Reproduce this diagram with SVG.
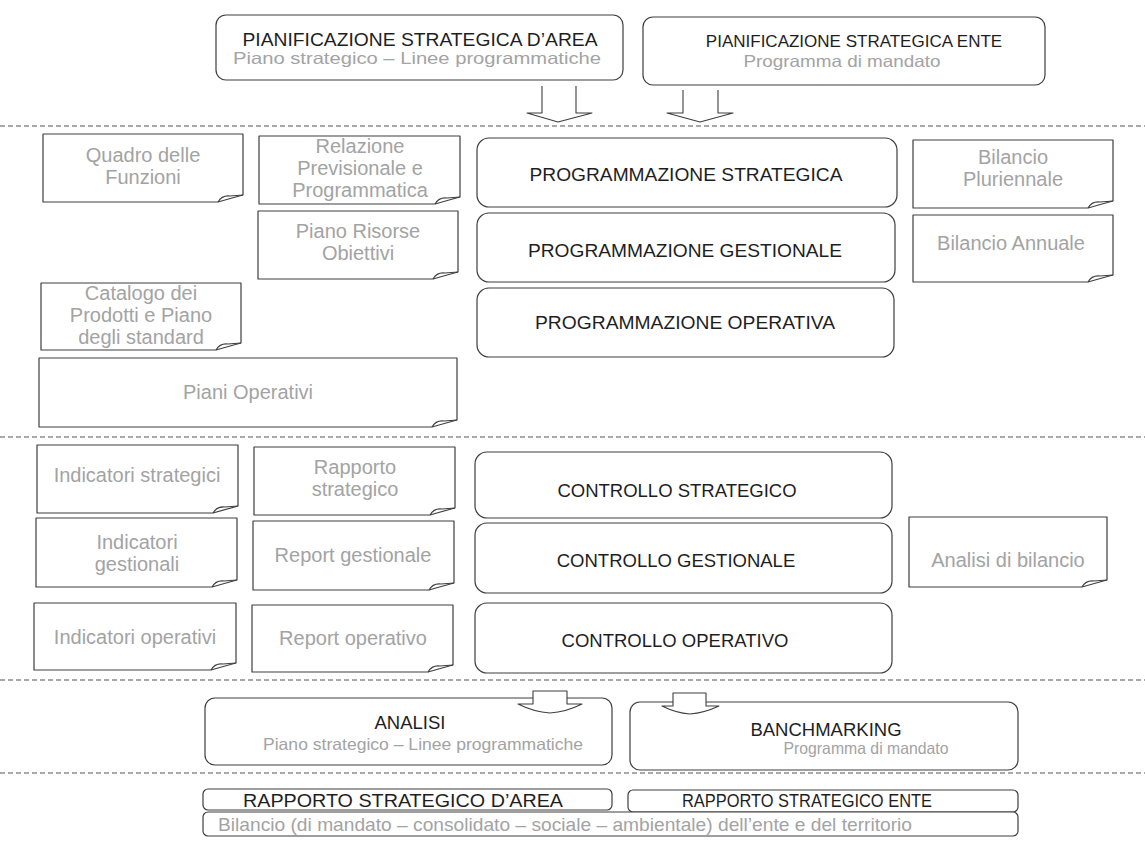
<svg xmlns="http://www.w3.org/2000/svg" width="1145" height="852" viewBox="0 0 1145 852">
<style>
  .box { fill: #ffffff; stroke: #3e3e3e; stroke-width: 1.2; }
  .note { fill: #ffffff; stroke: #3e3e3e; stroke-width: 1.2; stroke-linejoin: round; }
  .fold { fill: none; stroke: #3e3e3e; stroke-width: 1.1; }
  .sep { stroke: #555555; stroke-width: 1.2; stroke-dasharray: 5 3; fill: none; }
  .arr { fill: #ffffff; stroke: #3e3e3e; stroke-width: 1.1; stroke-linejoin: round; }
  .t { font-family: "Liberation Sans", Arial, sans-serif; font-size: 18.5px; fill: #1e1e1e; text-anchor: middle; }
  .f { font-family: "Liberation Sans", Arial, sans-serif; font-size: 20px; fill: #a3a3a3; text-anchor: middle; }
  .s { font-family: "Liberation Sans", Arial, sans-serif; font-size: 16.5px; fill: #a3a3a3; text-anchor: middle; }
</style>
<rect width="1145" height="852" fill="#ffffff"/>

<g id="separators">
  <line class="sep" x1="0" y1="126" x2="1145" y2="126"/>
  <line class="sep" x1="0" y1="437" x2="1145" y2="437"/>
  <line class="sep" x1="0" y1="680" x2="1145" y2="680"/>
  <line class="sep" x1="0" y1="773" x2="1145" y2="773"/>
</g>

<g id="pian-area">
  <rect class="box" x="216" y="15" width="407" height="65" rx="10"/>
  <text class="t" x="420" y="46" textLength="355" lengthAdjust="spacingAndGlyphs">PIANIFICAZIONE STRATEGICA D’AREA</text>
  <text class="s" x="417" y="64" textLength="368" lengthAdjust="spacingAndGlyphs">Piano strategico – Linee programmatiche</text>
</g>
<g id="pian-ente">
  <rect class="box" x="643" y="17" width="402" height="68" rx="10"/>
  <text class="t" x="854" y="47" style="font-size:17px">PIANIFICAZIONE STRATEGICA ENTE</text>
  <text class="s" x="842" y="67" textLength="197" lengthAdjust="spacingAndGlyphs">Programma di mandato</text>
</g>

<g id="prog-strategica">
  <rect class="box" x="477" y="138" width="420" height="69" rx="12"/>
  <text class="t" x="686" y="181" textLength="313" lengthAdjust="spacingAndGlyphs">PROGRAMMAZIONE STRATEGICA</text>
</g>
<g id="prog-gestionale">
  <rect class="box" x="477" y="213" width="418" height="69" rx="12"/>
  <text class="t" x="685" y="257" textLength="314" lengthAdjust="spacingAndGlyphs">PROGRAMMAZIONE GESTIONALE</text>
</g>
<g id="prog-operativa">
  <rect class="box" x="477" y="288" width="417" height="69" rx="12"/>
  <text class="t" x="685" y="329" textLength="300" lengthAdjust="spacingAndGlyphs">PROGRAMMAZIONE OPERATIVA</text>
</g>

<g id="ctrl-strategico">
  <rect class="box" x="475" y="452" width="417" height="66" rx="12"/>
  <text class="t" x="677" y="497">CONTROLLO STRATEGICO</text>
</g>
<g id="ctrl-gestionale">
  <rect class="box" x="475" y="523" width="417" height="70" rx="12"/>
  <text class="t" x="676" y="567">CONTROLLO GESTIONALE</text>
</g>
<g id="ctrl-operativo">
  <rect class="box" x="475" y="603" width="417" height="70" rx="12"/>
  <text class="t" x="675" y="647">CONTROLLO OPERATIVO</text>
</g>

<g id="quadro">
  <path class="note" d="M43,134 H243 V195 Q232,198 218,202 H43 Z"/>
  <path class="fold" d="M218,202 Q222,195 230,196 L243,195"/>
  <text class="f" x="143" y="162">Quadro delle</text>
  <text class="f" x="143" y="184">Funzioni</text>
</g>
<g id="relazione">
  <path class="note" d="M259,136 H460 V197 Q449,200 435,204 H259 Z"/>
  <path class="fold" d="M435,204 Q439,197 447,198 L460,197"/>
  <text class="f" x="360" y="153">Relazione</text>
  <text class="f" x="360" y="175">Previsionale e</text>
  <text class="f" x="360" y="197">Programmatica</text>
</g>
<g id="piano-risorse">
  <path class="note" d="M258,211 H458 V272 Q447,275 433,279 H258 Z"/>
  <path class="fold" d="M433,279 Q437,272 445,273 L458,272"/>
  <text class="f" x="358" y="238">Piano Risorse</text>
  <text class="f" x="358" y="260">Obiettivi</text>
</g>
<g id="catalogo">
  <path class="note" d="M41,283 H241 V343 Q230,346 216,350 H41 Z"/>
  <path class="fold" d="M216,350 Q220,343 228,344 L241,343"/>
  <text class="f" x="141" y="300">Catalogo dei</text>
  <text class="f" x="141" y="322">Prodotti e Piano</text>
  <text class="f" x="141" y="344">degli standard</text>
</g>
<g id="piani-operativi">
  <path class="note" d="M39,358 H457 V420 Q446,423 432,427 H39 Z"/>
  <path class="fold" d="M432,427 Q436,420 444,421 L457,420"/>
  <text class="f" x="248" y="399">Piani Operativi</text>
</g>
<g id="bil-pluriennale">
  <path class="note" d="M913,140 H1113 V201 Q1102,204 1088,208 H913 Z"/>
  <path class="fold" d="M1088,208 Q1092,201 1100,202 L1113,201"/>
  <text class="f" x="1013" y="164">Bilancio</text>
  <text class="f" x="1013" y="186">Pluriennale</text>
</g>
<g id="bil-annuale">
  <path class="note" d="M913,215 H1113 V275 Q1102,278 1088,282 H913 Z"/>
  <path class="fold" d="M1088,282 Q1092,275 1100,276 L1113,275"/>
  <text class="f" x="1011" y="250">Bilancio Annuale</text>
</g>

<g id="ind-strategici">
  <path class="note" d="M37,445 H238 V506 Q227,509 213,513 H37 Z"/>
  <path class="fold" d="M213,513 Q217,506 225,507 L238,506"/>
  <text class="f" x="137" y="482">Indicatori strategici</text>
</g>
<g id="rapporto-strategico">
  <path class="note" d="M254,447 H455 V508 Q444,511 430,515 H254 Z"/>
  <path class="fold" d="M430,515 Q434,508 442,509 L455,508"/>
  <text class="f" x="355" y="474">Rapporto</text>
  <text class="f" x="355" y="496">strategico</text>
</g>
<g id="ind-gestionali">
  <path class="note" d="M36,518 H237 V580 Q226,583 212,587 H36 Z"/>
  <path class="fold" d="M212,587 Q216,580 224,581 L237,580"/>
  <text class="f" x="137" y="549">Indicatori</text>
  <text class="f" x="137" y="571">gestionali</text>
</g>
<g id="report-gestionale">
  <path class="note" d="M253,521 H454 V583 Q443,586 429,590 H253 Z"/>
  <path class="fold" d="M429,590 Q433,583 441,584 L454,583"/>
  <text class="f" x="353" y="562">Report gestionale</text>
</g>
<g id="ind-operativi">
  <path class="note" d="M34,603 H236 V663 Q225,666 211,670 H34 Z"/>
  <path class="fold" d="M211,670 Q215,663 223,664 L236,663"/>
  <text class="f" x="135" y="644">Indicatori operativi</text>
</g>
<g id="report-operativo">
  <path class="note" d="M252,605 H453 V665 Q442,668 428,672 H252 Z"/>
  <path class="fold" d="M428,672 Q432,665 440,666 L453,665"/>
  <text class="f" x="353" y="645">Report operativo</text>
</g>
<g id="analisi-bilancio">
  <path class="note" d="M909,517 H1107 V580 Q1096,583 1082,587 H909 Z"/>
  <path class="fold" d="M1082,587 Q1086,580 1094,581 L1107,580"/>
  <text class="f" x="1008" y="567">Analisi di bilancio</text>
</g>

<g id="analisi">
  <rect class="box" x="205" y="698" width="407" height="67" rx="10"/>
  <text class="t" x="410" y="729">ANALISI</text>
  <text class="s" x="423" y="750" textLength="320" lengthAdjust="spacingAndGlyphs">Piano strategico – Linee programmatiche</text>
</g>
<g id="banchmarking">
  <rect class="box" x="630" y="702" width="388" height="68" rx="10"/>
  <text class="t" x="826" y="736">BANCHMARKING</text>
  <text class="s" x="866" y="754" textLength="165" lengthAdjust="spacingAndGlyphs">Programma di mandato</text>
</g>

<g id="rapporto-area">
  <rect class="box" x="203" y="789" width="409" height="21" rx="5"/>
  <text class="t" x="403" y="807" style="font-size:18px" textLength="320" lengthAdjust="spacingAndGlyphs">RAPPORTO STRATEGICO D’AREA</text>
</g>
<g id="rapporto-ente">
  <rect class="box" x="628" y="790" width="390" height="22" rx="5"/>
  <text class="t" x="807" y="807" style="font-size:18px" textLength="250" lengthAdjust="spacingAndGlyphs">RAPPORTO STRATEGICO ENTE</text>
</g>
<g id="bilancio-mandato">
  <rect class="box" x="203" y="812" width="815" height="24" rx="5"/>
  <text class="f" x="218" y="831" style="text-anchor:start;font-size:19px" textLength="694" lengthAdjust="spacingAndGlyphs">Bilancio (di mandato – consolidato – sociale – ambientale) dell’ente e del territorio</text>
</g>

<g id="connectors">
  <path class="arr" d="M542,86 V113 H527 L558,122 L592,113 H576 V86"/>
  <path class="arr" d="M683,90 V113 H667 L700,122 L733,113 H718 V90"/>
  <path class="arr" d="M533,691 H567 V704 H582 Q566,712 550,713 Q534,712 518,704 H533 Z"/>
  <path class="arr" d="M673,693 H706 V706 H719 Q704,713 690,714 Q676,713 662,706 H673 Z"/>
</g>
</svg>
